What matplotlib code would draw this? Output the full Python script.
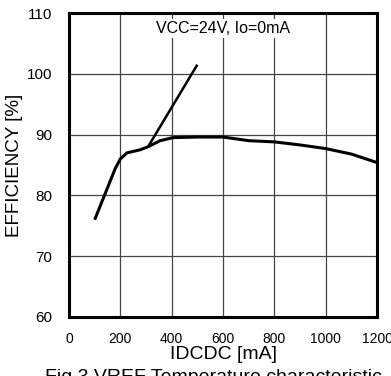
import matplotlib
matplotlib.use("Agg")
import matplotlib.pyplot as plt

plt.rcParams['font.family'] = ['Liberation Sans', 'DejaVu Sans']

# Main efficiency curve
idcdc = [100, 140, 180, 200, 226, 277, 308, 355, 405, 500, 600, 700, 800, 900, 1000, 1100, 1200]
eff = [76.0, 80.2, 84.4, 86.0, 87.0, 87.5, 88.0, 89.0, 89.5, 89.6, 89.6, 89.0, 88.8, 88.3, 87.7, 86.8, 85.4]

# Steep branch line
branch_x = [308, 500]
branch_y = [88.0, 101.5]

xticks = [0, 200, 400, 600, 800, 1000, 1200]
yticks = [60, 70, 80, 90, 100, 110]

fig = plt.figure(figsize=(3.91, 3.76), dpi=100)
ax = fig.add_axes([69/391, (376-317)/376, (377-69)/391, (317-13)/376])

ax.plot(idcdc, eff, color='black', lw=2.2, solid_capstyle='butt')
ax.plot(branch_x, branch_y, color='black', lw=1.8, solid_capstyle='butt')

ax.set_xlim(0, 1200)
ax.set_ylim(60, 110)
ax.set_xticks(xticks)
ax.set_yticks(yticks)
ax.grid(True, color='#444444', lw=0.9)
ax.set_axisbelow(True)
ax.tick_params(axis='x', length=0, labelsize=10, pad=11)
ax.tick_params(axis='y', length=0, labelsize=11, pad=12)
for s in ax.spines.values():
    s.set_linewidth(2.2)
    s.set_color('black')

ax.set_xlabel('IDCDC [mA]', fontsize=14, labelpad=0)
ax.set_ylabel('EFFICIENCY [%]', fontsize=13.5, labelpad=3)

ax.text(0.5, 0.975, 'VCC=24V, Io=0mA', transform=ax.transAxes, ha='center', va='top',
        fontsize=11.5, bbox=dict(facecolor='white', edgecolor='none', pad=1.5))

fig.text(45/391, (376-369)/376, 'Fig.3 VREF Temperature characteristic', fontsize=14,
         ha='left', va='top')

fig.savefig('out.png', dpi=100)
